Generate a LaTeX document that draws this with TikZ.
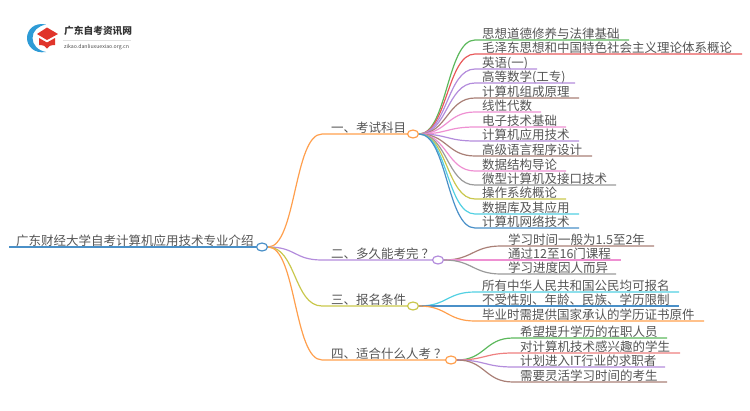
\documentclass[tikz,border=0pt]{standalone}
\usepackage{fontspec}
\setmainfont{Noto Sans CJK SC}
\usetikzlibrary{shapes.geometric}
\definecolor{txtgray}{HTML}{555555}
\definecolor{cgreen}{HTML}{5CB85C}
\definecolor{cred}{HTML}{E8595A}
\definecolor{cpurple}{HTML}{B38CDC}
\definecolor{cbrown}{HTML}{A97F76}
\definecolor{cpink}{HTML}{EE90D2}
\definecolor{cgray}{HTML}{9A9A9A}
\definecolor{colive}{HTML}{C9C74C}
\definecolor{ccyan}{HTML}{52D0E2}
\definecolor{cblue}{HTML}{4A90C8}
\definecolor{corange}{HTML}{FF9F4D}
\definecolor{csalmon}{HTML}{EE8080}
\definecolor{logored}{HTML}{E0352B}
\definecolor{logoblue}{HTML}{2E9BD6}
\tikzset{
  leaftext/.style={anchor=south west,inner xsep=7pt,inner ysep=0.5pt,text height=11pt,text depth=1pt,text=txtgray,font=\fontsize{12.5pt}{13pt}\selectfont},
  hubdot/.style={ellipse,draw=#1,fill=white,line width=1.2pt,minimum width=11pt,minimum height=8pt,inner sep=0pt},
  wire/.style={line width=1.2pt,draw=#1}
}
\begin{document}
\begin{tikzpicture}[x=1pt,y=-1pt]
  \useasboundingbox (0,0) rectangle (750,410);

  % Logo
  \fill[logoblue] (46,24.5) .. controls (34,22) and (27,30) .. (27,38) .. controls (27,46) and (34,54) .. (46,52)
    .. controls (38,50.5) and (32.5,45) .. (32.5,38) .. controls (32.5,31) and (38,26) .. (46,24.5) -- cycle;
  \fill[logored] (47,27.5) -- (58,34) -- (47,40) -- (37,34) -- cycle;
  \fill[logored] (39,38) -- (47,42.5) -- (55,38) -- (55,45) .. controls (51,45) and (48,46) .. (47,48.5) .. controls (46,46) and (43,45) .. (39,45) -- cycle;
  \node[anchor=west,inner sep=0pt,text=black!80,font=\fontsize{9.7pt}{11pt}\selectfont\bfseries] (logotitle) at (64,31) {广东自考资讯网};
  \draw[black!12,line width=.5pt] (63,40) -- (131,40);
  \node[anchor=west,inner sep=0pt,text=black!70,font=\fontsize{5.2pt}{6pt}\selectfont] (logourl) at (64,47) {zikao.danliuxuexiao.org.cn};

  % Root and the four branches
  \node[leaftext] (root) at (9,247) {广东财经大学自考计算机应用技术专业介绍};
  \node[hubdot=cblue] (hub0) at (262,247) {};
  \draw[wire=cblue] (root.south west) -- (hub0.west);

  \foreach \i/\y/\xh/\col/\txt in {
    1/134/413/corange/一、考试科目,
    2/260/438/cpurple/二、多久能考完\hspace{3pt}？,
    3/306/413/colive/三、报名条件,
    4/360/451/corange/四、适合什么人考\hspace{3pt}？} {
    \node[leaftext,inner xsep=9pt] (branch\i) at (322,\y) {\txt};
    \node[hubdot=\col] (hub\i) at (\xh,\y) {};
    \draw[wire=\col] (hub0.east) .. controls +(28,0) and +(-28,0) .. (branch\i.south west) -- (hub\i.west);
  }

  % Leaves of branch one
  \foreach \i/\y/\xe/\col/\txt in {
    1/40/629/cgreen/思想道德修养与法律基础,
    2/54/742/cred/毛泽东思想和中国特色社会主义理论体系概论,
    3/69/537/cpurple/英语(一),
    4/83/575/cpurple/高等数学(工专),
    5/98/579/cbrown/计算机组成原理,
    6/112/541/cpink/线性代数,
    7/127/566/cpink/电子技术基础,
    8/141/579/cpurple/计算机应用技术,
    9/156/592/cbrown/高级语言程序设计,
    10/171/566/cpink/数据结构导论,
    11/185/616/cgray/微型计算机及接口技术,
    12/199/566/colive/操作系统概论,
    13/214/579/ccyan/数据库及其应用,
    14/228/579/cblue/计算机网络技术} {
    \node[leaftext] (leafa\i) at (475,\y) {\txt};
    \coordinate (enda\i) at (\xe,\y);
    \draw[wire=\col] (hub1.east) .. controls +(28,0) and +(-28,0) .. (leafa\i.south west) -- (enda\i);
  }

  % Leaves of branch two
  \foreach \i/\y/\xe/\col/\txt in {
    1/246/654/cbrown/学习时间一般为1.5至2年,
    2/260/621/cpink/通过12至16门课程,
    3/274/616/cgray/学习进度因人而异} {
    \node[leaftext] (leafb\i) at (501,\y) {\txt};
    \coordinate (endb\i) at (\xe,\y);
    \draw[wire=\col] (hub2.east) .. controls +(28,0) and +(-28,0) .. (leafb\i.south west) -- (endb\i);
  }

  % Leaves of branch three
  \foreach \i/\y/\xe/\col/\txt in {
    1/292/679/ccyan/所有中华人民共和国公民均可报名,
    2/306/679/cblue/不受性别、年龄、民族、学历限制,
    3/321/704/corange/毕业时需提供国家承认的学历证书原件} {
    \node[leaftext] (leafc\i) at (475,\y) {\txt};
    \coordinate (endc\i) at (\xe,\y);
    \draw[wire=\col] (hub3.east) .. controls +(28,0) and +(-28,0) .. (leafc\i.south west) -- (endc\i);
  }

  % Leaves of branch four
  \foreach \i/\y/\xe/\col/\txt in {
    1/338/667/cgreen/希望提升学历的在职人员,
    2/353/680/csalmon/对计算机技术感兴趣的学生,
    3/367/665/cpurple/计划进入IT行业的求职者,
    4/382/667/cbrown/需要灵活学习时间的考生} {
    \node[leaftext] (leafd\i) at (513,\y) {\txt};
    \coordinate (endd\i) at (\xe,\y);
    \draw[wire=\col] (hub4.east) .. controls +(28,0) and +(-28,0) .. (leafd\i.south west) -- (endd\i);
  }
\end{tikzpicture}
\end{document}
